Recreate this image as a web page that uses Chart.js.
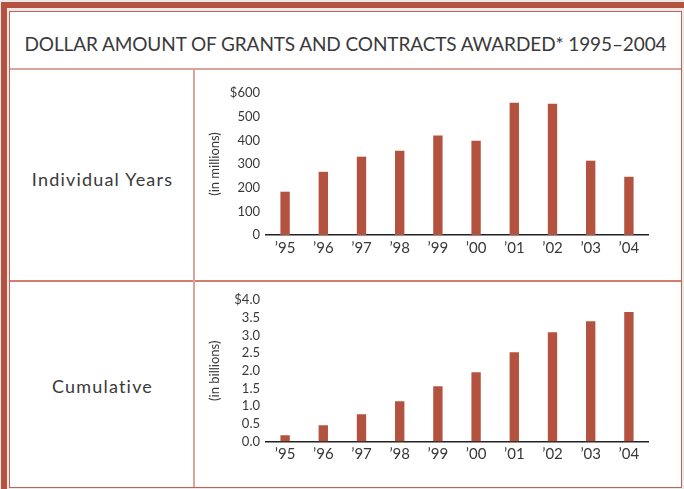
<!DOCTYPE html>
<html>
<head>
<meta charset="utf-8">
<script src="https://cdn.jsdelivr.net/npm/chart.js@4.4.1/dist/chart.umd.min.js"></script>
<style>
  html, body { margin: 0; padding: 0; background: #e9e9e9; }
  body { width: 684px; height: 489px; position: relative; overflow: hidden; font-family: Lato, "Open Sans", sans-serif; color: #3a3a3a; }
  .outer { position: absolute; left: 1px; top: 2px; width: 683px; height: 487px; border-left: 6px solid #b5523f; border-top: 6px solid #b5523f; box-sizing: border-box; background: #e9e9e9; }
  .box { position: absolute; left: 9px; top: 11px; width: 673px; height: 477px; background: #fff; border: 1.5px solid #c9604d; box-sizing: border-box; }
  .hline { position: absolute; height: 2px; background: #d9a49a; }
  .vline { position: absolute; width: 2px; background: #d9a49a; }
  .title { position: absolute; left: 9px; width: 673px; top: 32px; text-align: center; font-size: 19px; font-weight: 400; letter-spacing: -0.1px; white-space: nowrap; }
  .side { position: absolute; left: 11px; width: 183px; text-align: center; font-size: 18px; font-weight: 400; letter-spacing: 1.2px; }
  canvas { position: absolute; }
</style>
</head>
<body>
<div class="outer"></div>
<div class="box"></div>
<div class="hline" style="left:10px; width:671px; top:68px;"></div>
<div class="hline" style="left:10px; width:671px; top:280px; background:#d27d6d;"></div>
<div class="vline" style="left:193px; top:69px; height:418px;"></div>
<div class="title">DOLLAR AMOUNT OF GRANTS AND CONTRACTS AWARDED* 1995–2004</div>
<div class="side" style="top:168px;">Individual Years</div>
<div class="side" style="top:375px;">Cumulative</div>
<canvas id="yearly" width="484" height="209" style="left:196px; top:71px;"></canvas>
<canvas id="cumulative" width="484" height="204" style="left:196px; top:283px;"></canvas>
<script>
// category labels
const years = ['’95', '’96', '’97', '’98', '’99', '’00', '’01', '’02', '’03', '’04'];
// millions of dollars, each year
const yearlyValues = [183, 267, 331, 356, 420, 398, 559, 555, 314, 246];
// billions of dollars, running total
const cumulativeValues = [0.18, 0.46, 0.77, 1.14, 1.56, 1.96, 2.52, 3.09, 3.40, 3.66];

const barColor = '#b3533f';
const textColor = '#383838';

function makeChart(id, values, yMax, step, fmt, axisTitle, pad) {
  return new Chart(document.getElementById(id), {
    type: 'bar',
    data: {
      labels: years,
      datasets: [{
        data: values,
        backgroundColor: barColor,
        barPercentage: 0.245,
        categoryPercentage: 1.0,
      }],
    },
    options: {
      responsive: false,
      animation: false,
      devicePixelRatio: 1,
      layout: { padding: pad },
      plugins: { legend: { display: false }, tooltip: { enabled: false } },
      scales: {
        x: {
          grid: { display: false, drawTicks: false },
          border: { display: true, color: '#222222', width: 1.5 },
          ticks: { color: textColor, padding: 4, font: { family: 'Lato', size: 15 } },
          afterFit: (scale) => { scale.height = 20; },
        },
        y: {
          min: 0,
          max: yMax,
          grid: { display: false, drawTicks: false },
          border: { display: false },
          ticks: {
            stepSize: step,
            autoSkip: false,
            color: textColor,
            padding: 6,
            font: { family: 'Lato', size: 13 },
            callback: (v) => (v === yMax ? '$' : '') + fmt(v),
          },
          title: {
            display: true,
            text: axisTitle,
            color: textColor,
            font: { family: 'Lato', size: 13 },
            padding: { top: 11, bottom: 0 },
          },
          afterFit: (scale) => { scale.width = 70; },
        },
      },
    },
  });
}

makeChart('yearly', yearlyValues, 600, 100, (v) => String(v), '(in millions)',
  { top: 22, bottom: 25, left: 0, right: 32 });
makeChart('cumulative', cumulativeValues, 4, 0.5, (v) => v.toFixed(1), '(in billions)',
  { top: 17, bottom: 25.5, left: 0, right: 32 });
</script>
</body>
</html>
